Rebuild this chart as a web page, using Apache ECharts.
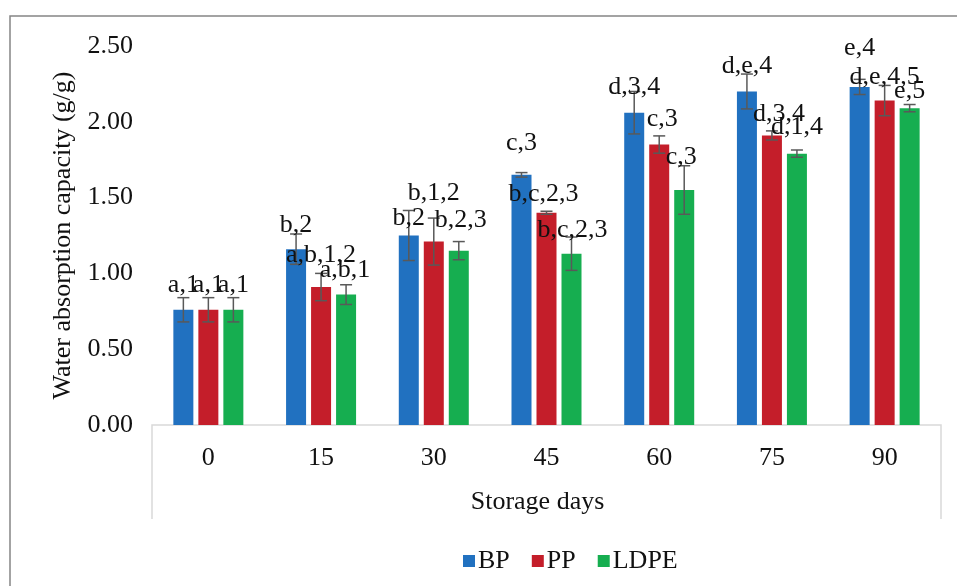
<!DOCTYPE html>
<html>
<head>
<meta charset="utf-8">
<title>Water absorption capacity</title>
<script src="https://cdn.jsdelivr.net/npm/echarts@6/dist/echarts.min.js"></script>
<style>
  html, body { margin: 0; padding: 0; background: #fff; }
  #chart { width: 957px; height: 586px; }
</style>
</head>
<body>
<div id="chart"></div>
<script>
// Storage days (categories)
const days = ['0', '15', '30', '45', '60', '75', '90'];

// Mean water absorption capacity (g/g)
const bp   = [0.76, 1.16, 1.25, 1.65, 2.06, 2.20, 2.23];
const pp   = [0.76, 0.91, 1.21, 1.40, 1.85, 1.91, 2.14];
const ldpe = [0.76, 0.86, 1.15, 1.13, 1.55, 1.79, 2.09];

// Standard deviations
const bpErr   = [0.08, 0.10, 0.165, 0.015, 0.14, 0.115, 0.05];
const ppErr   = [0.08, 0.09, 0.155, 0.010, 0.057, 0.03, 0.10];
const ldpeErr = [0.08, 0.065, 0.06, 0.11, 0.16, 0.024, 0.024];

// Significance letters
const bpSig   = ['a,1', 'b,2', 'b,2', 'c,3', 'd,3,4', 'd,e,4', 'e,4'];
const ppSig   = ['a,1', 'a,b,1,2', 'b,1,2', 'b,c,2,3', 'c,3', 'd,3,4', 'd,e,4,5'];
const ldpeSig = ['a,1', 'a,b,1', 'b,2,3', 'b,c,2,3', 'c,3', 'd,1,4', 'e,5'];

// Y-axis tick values
const yTicks = [0, 0.5, 1.0, 1.5, 2.0, 2.5];

// Label nudges in pixels [dx, dy] relative to the top of each error bar
const bpNudge   = [[0,-12],[0,-9],[0,8],[0,-29],[0,-4],[0,-8],[0,-31]];
const ppNudge   = [[0,-12],[0,-18],[0,-25],[-3,-17],[3,-17],[7,-17],[0,-8]];
const ldpeNudge = [[0,-12],[-1,-15],[2,-21],[1,-7],[-3,-9],[0,-23],[0,-13]];

const FONT = '"Liberation Serif", "Times New Roman", serif';
const COLORS = ['#2171C0', '#C41E2A', '#16AE50'];
const BAR_W = 20;
const STEP = 25;

const chart = echarts.init(document.getElementById('chart'), null, { renderer: 'canvas' });

const groups = [
  { name: 'BP', values: bp, err: bpErr, sig: bpSig, nudge: bpNudge },
  { name: 'PP', values: pp, err: ppErr, sig: ppSig, nudge: ppNudge },
  { name: 'LDPE', values: ldpe, err: ldpeErr, sig: ldpeSig, nudge: ldpeNudge }
];

const series = [];
groups.forEach((g, gi) => {
  series.push({
    name: g.name,
    type: 'bar',
    data: g.values,
    barWidth: BAR_W,
    barGap: '25%',
    itemStyle: { color: COLORS[gi] },
    z: 2
  });
});

// Error bars and significance letters
groups.forEach((g, gi) => {
  series.push({
    name: g.name + ' sd',
    type: 'custom',
    z: 5,
    silent: true,
    data: g.values.map((v, i) => [i, v, g.err[i]]),
    renderItem: function (params, api) {
      const i = api.value(0);
      const v = api.value(1);
      const e = api.value(2);
      const dx = (gi - 1) * STEP;
      const top = api.coord([i, v + e]);
      const bot = api.coord([i, v - e]);
      const x = top[0] + dx;
      const cap = 6;
      const style = { stroke: '#595959', lineWidth: 1.5 };
      const nd = g.nudge[params.dataIndex];
      return {
        type: 'group',
        children: [
          { type: 'line', shape: { x1: x, y1: top[1], x2: x, y2: bot[1] }, style: style },
          { type: 'line', shape: { x1: x - cap, y1: top[1], x2: x + cap, y2: top[1] }, style: style },
          { type: 'line', shape: { x1: x - cap, y1: bot[1], x2: x + cap, y2: bot[1] }, style: style },
          {
            type: 'text',
            style: {
              x: x + nd[0],
              y: top[1] + nd[1],
              text: g.sig[params.dataIndex],
              align: 'center',
              verticalAlign: 'middle',
              font: '26px ' + FONT,
              fill: '#111'
            }
          }
        ]
      };
    }
  });
});

const option = {
  animation: false,
  backgroundColor: '#ffffff',
  grid: { left: 152, right: 16, top: 46, bottom: 161, containLabel: false },
  legend: {
    data: groups.map(g => g.name),
    left: 458,
    top: 543,
    itemWidth: 12,
    itemHeight: 12,
    itemGap: 22,
    icon: 'rect',
    textStyle: { fontFamily: FONT, fontSize: 26, color: '#111', padding: [0, 0, 0, -2] }
  },
  xAxis: {
    type: 'category',
    data: days,
    axisTick: { show: false },
    axisLine: { show: false },
    axisLabel: { fontFamily: FONT, fontSize: 26, color: '#111', margin: 20 },
    name: 'Storage days',
    nameLocation: 'middle',
    nameGap: 64,
    nameTextStyle: { fontFamily: FONT, fontSize: 26, color: '#111', padding: [0, 18, 0, 0] }
  },
  yAxis: {
    type: 'value',
    min: yTicks[0],
    max: yTicks[yTicks.length - 1],
    interval: yTicks[1] - yTicks[0],
    splitLine: { show: false },
    axisLine: { show: false },
    axisTick: { show: false },
    axisLabel: {
      fontFamily: FONT, fontSize: 26, color: '#111', margin: 19,
      formatter: v => v.toFixed(2)
    },
    name: 'Water absorption capacity (g/g)',
    nameLocation: 'middle',
    nameGap: 61,
    nameTextStyle: { fontFamily: FONT, fontSize: 26, color: '#111' }
  },
  graphic: [
    // chart frame (left and top edges)
    {
      type: 'polyline', silent: true, z: 0,
      shape: { points: [[10, 586], [10, 16], [957, 16]] },
      style: { stroke: '#858585', lineWidth: 1.5, fill: null }
    },
    // category axis box
    {
      type: 'polyline', silent: true, z: 1,
      shape: { points: [[152, 519], [152, 425], [941, 425], [941, 519]] },
      style: { stroke: '#d9d9d9', lineWidth: 1.5, fill: null }
    }
  ],
  series: series
};

chart.setOption(option);
</script>
</body>
</html>
